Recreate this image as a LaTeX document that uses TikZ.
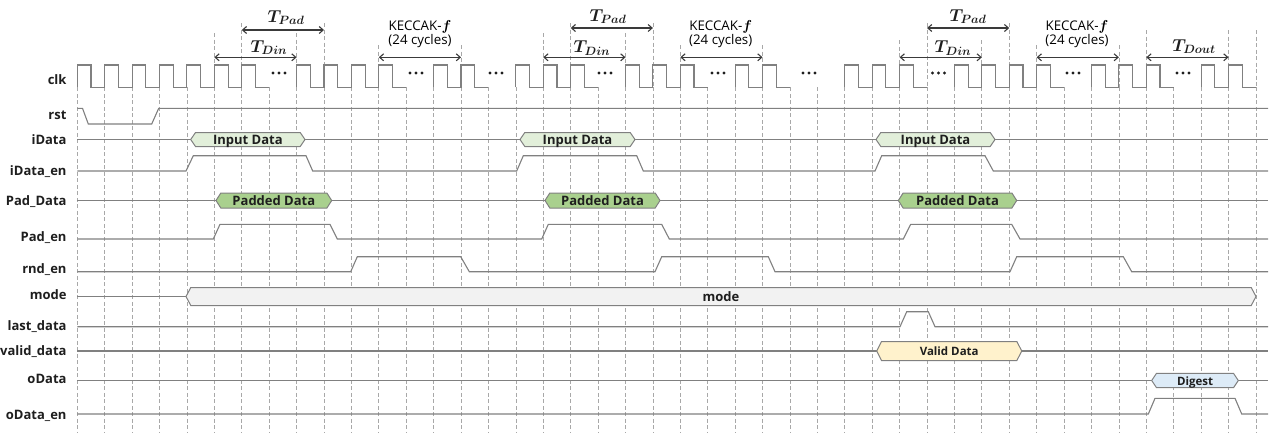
\documentclass[tikz,border=0pt]{standalone}
\usepackage{fontspec}
\usepackage{amsmath}
\setmainfont{Open Sans}
\usetikzlibrary{arrows.meta}
\definecolor{sig}{HTML}{808080}
\definecolor{gridc}{HTML}{A8A8A8}
\definecolor{txt}{HTML}{1E1E1E}
\definecolor{dimc}{HTML}{3A3A3A}
\definecolor{inFill}{HTML}{E2EFDA}
\definecolor{padFill}{HTML}{A9D08E}
\definecolor{validFill}{HTML}{FFF2CC}
\definecolor{digFill}{HTML}{DDEBF7}
\definecolor{modeFill}{HTML}{F2F2F2}
\newcommand\gx[1]{(77.3+27.41*(#1))}
\newcommand\drawbus[7]{%
  \path[busshape, fill=#6] (#2,#4) -- ({#2+4.8},{#4-#5}) -- ({#3-4.8},{#4-#5}) -- (#3,#4) -- ({#3-4.8},{#4+#5}) -- ({#2+4.8},{#4+#5}) -- cycle;
  \node[buslab, anchor=base] (#1) at ({(#2+#3)/2},{#4+4.5}) {#7};
}
\begin{document}
\begin{tikzpicture}[x=1pt,y=-1pt,
  sigline/.style={draw=sig, line width=1.1pt, line join=miter},
  gridline/.style={draw=gridc, line width=0.7pt, dash pattern=on 4pt off 2.5pt},
  busshape/.style={draw=sig, line width=1pt},
  lab/.style={anchor=base east, font=\fontsize{13}{15}\selectfont\bfseries, text=txt, inner sep=0pt},
  buslab/.style={font=\fontsize{13}{15}\selectfont\bfseries, text=txt, inner sep=0pt},
  kec/.style={anchor=base, font=\fontsize{13.3}{15}\selectfont, text=black, inner sep=0pt},
  tlab/.style={anchor=base, font=\fontsize{16.5}{19}\selectfont, text=txt, inner sep=0pt},
  dim/.style={draw=dimc, line width=1.1pt, {Straight Barb[length=4pt,width=7pt]}-{Straight Barb[length=4pt,width=7pt]}}
]
\useasboundingbox (0,0) rectangle (1271,432);

% grid lines
\foreach \i in {0,...,43}{\draw[gridline] ({\gx{\i}},87.3) -- ({\gx{\i}},432);}
\foreach \i/\t in {5/33,6/23,8/33,9/23,11/45,14/45,17/33,18/23,20/33,21/23,22/45,25/45,30/40,31/23,33/40,34/23,35/45,38/45,39/30,42/30,43/30}{
  \draw[gridline] ({\gx{\i}},\t) -- ({\gx{\i}},87.3);}

% row labels
\node[lab] (lclk) at (66.7,84.5) {clk};
\node[lab] (lrst) at (66.7,119.5) {rst};
\node[lab] (lidata) at (66.7,144) {iData};
\node[lab] (lidataen) at (66.7,175.5) {iData\_en};
\node[lab] (lpaddata) at (66.7,205) {Pad\_Data};
\node[lab] (lpaden) at (66.7,241.5) {Pad\_en};
\node[lab] (lrnden) at (66.7,273) {rnd\_en};
\node[lab] (lmode) at (66.7,299.5) {mode};
\node[lab] (llast) at (66.7,330) {last\_data};
\node[lab] (lvalid) at (66.7,355) {valid\_data};
\node[lab] (lodata) at (66.7,383.5) {oData};
\node[lab] (lodataen) at (66.7,419.5) {oData\_en};

% clock
\foreach \a/\b in {0/6,8/11,13/14,16/18,20/22,24/25,28/30,32/35,37/39,41/42}{
  \draw[sigline] ({\gx{\a}},87.3) \foreach \k in {\a,...,\b}{ -- ({\gx{\k}},65) -- ({\gx{\k}+13.7},65) -- ({\gx{\k}+13.7},87.3) -- ({\gx{\k+1}},87.3)};
}
\foreach \c in {279,416,496,605,718,809,938.5,1073,1183}{
  \foreach \d in {-6,0,6}{\fill[txt] ({\c+\d},73) circle[radius=1.6pt];}
}

% rst
\draw[sigline] (77.3,108.3) -- (82.5,108.3) -- (88.3,124) -- (151.7,124) -- (158.7,108.3) -- (1268,108.3);
% iData
\draw[sigline] (77.3,139.5) -- (1268,139.5);
% iData_en
\draw[sigline] (77.3,171) -- (186,171) -- (193.3,155.7) -- (306,155.7) -- (312.7,171) -- (516.7,171) -- (523.3,155.7) -- (636.7,155.7) -- (643.3,171) -- (875,171) -- (881.7,155.7) -- (985,155.7) -- (993.3,171) -- (1268,171);
% Pad_Data
\draw[sigline] (77.3,200.5) -- (1268,200.5);
% Pad_en
\draw[sigline] (77.3,239) -- (213.3,239) -- (220,224.3) -- (330,224.3) -- (337.3,239) -- (541.7,239) -- (548.3,224.3) -- (661.7,224.3) -- (669.3,239) -- (903.3,239) -- (910.7,224.3) -- (1011.7,224.3) -- (1020,239) -- (1268,239);
% rnd_en
\draw[sigline] (77.3,271.7) -- (350.7,271.7) -- (357.3,256.7) -- (460.7,256.7) -- (469.3,271.7) -- (655,271.7) -- (661.7,256.7) -- (768.3,256.7) -- (775,271.7) -- (1010,271.7) -- (1016.7,256.7) -- (1123.3,256.7) -- (1131.7,271.7) -- (1268,271.7);
% mode
\draw[sigline] (77.3,296.5) -- (186,296.5);
% last_data
\draw[sigline] (77.3,326.7) -- (900,326.7) -- (906.7,311.7) -- (928.3,311.7) -- (935,326.7) -- (1268,326.7);
% valid_data
\draw[sigline] (77.3,351) -- (1268,351);
% oData
\draw[sigline] (77.3,380.5) -- (1268,380.5);
% oData_en
\draw[sigline] (77.3,414) -- (1148.3,414) -- (1155,398.3) -- (1235,398.3) -- (1241.7,414) -- (1268,414);

% buses
\drawbus{in1}{190.7}{305}{139.5}{7}{inFill}{Input Data}
\drawbus{in2}{520}{635}{139.5}{7}{inFill}{Input Data}
\drawbus{in3}{876}{995}{139.5}{7}{inFill}{Input Data}
\drawbus{pd1}{216}{331.7}{200.5}{7.5}{padFill}{Padded Data}
\drawbus{pd2}{545}{660}{200.5}{7.5}{padFill}{Padded Data}
\drawbus{pd3}{898.3}{1016.7}{200.5}{7.5}{padFill}{Padded Data}
\drawbus{md}{186}{1256}{296.5}{9}{modeFill}{mode}
\drawbus{vd}{876.7}{1021.7}{351}{9.5}{validFill}{\fontsize{11.5}{14}\selectfont Valid Data}
\drawbus{dg}{1151.7}{1238.3}{380.5}{7.2}{digFill}{\fontsize{11.5}{14}\selectfont Digest}

% annotation coordinates and arrows
\coordinate (p1a) at ({\gx{6}},30);   \coordinate (p1b) at ({\gx{9}},30);
\coordinate (d1a) at ({\gx{5}},57.3); \coordinate (d1b) at ({\gx{8}},57.3);
\coordinate (k1a) at ({\gx{11}},57.3); \coordinate (k1b) at ({\gx{14}},57.3);
\coordinate (p2a) at ({\gx{18}},28);  \coordinate (p2b) at ({\gx{21}},28);
\coordinate (d2a) at ({\gx{17}},57.3); \coordinate (d2b) at ({\gx{20}},57.3);
\coordinate (k2a) at ({\gx{22}},57.3); \coordinate (k2b) at ({\gx{25}},57.3);
\coordinate (p3a) at ({\gx{31}},28);  \coordinate (p3b) at ({\gx{34}},28);
\coordinate (d3a) at ({\gx{30}},57.3); \coordinate (d3b) at ({\gx{33}},57.3);
\coordinate (k3a) at ({\gx{35}},57.3); \coordinate (k3b) at ({\gx{38}},57.3);
\coordinate (o1a) at ({\gx{39}},57.3); \coordinate (o1b) at ({\gx{42}},57.3);
\foreach \n in {p1,d1,k1,p2,d2,k2,p3,d3,k3,o1}{\draw[dim] (\n a) -- (\n b);}

\node[tlab] (tpad1) at (286,22) {$\boldsymbol{T_{Pad}}$};
\node[tlab] (tdin1) at (269,52) {$\boldsymbol{T_{Din}}$};
\node[tlab] (tpad2) at (608,21) {$\boldsymbol{T_{Pad}}$};
\node[tlab] (tdin2) at (592,52.5) {$\boldsymbol{T_{Din}}$};
\node[tlab] (tpad3) at (968,21) {$\boldsymbol{T_{Pad}}$};
\node[tlab] (tdin3) at (953,52.5) {$\boldsymbol{T_{Din}}$};
\node[tlab] (tdout) at (1194,51) {$\boldsymbol{T_{Dout}}$};

\node[kec] (kt1) at (420,30.5) {KECCAK-$\boldsymbol{f}$};
\node[kec] (kc1) at (420,44) {(24 cycles)};
\node[kec] (kt2) at (720.7,30.5) {KECCAK-$\boldsymbol{f}$};
\node[kec] (kc2) at (720.7,44) {(24 cycles)};
\node[kec] (kt3) at (1077,30.5) {KECCAK-$\boldsymbol{f}$};
\node[kec] (kc3) at (1077,44) {(24 cycles)};
\end{tikzpicture}
\end{document}
